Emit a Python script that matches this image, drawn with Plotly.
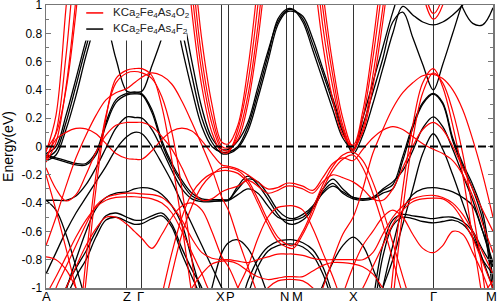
import plotly.graph_objects as go

# k-path sample positions (arbitrary path units)
K = [0, 10, 20, 30, 40, 50, 60, 70, 81,
     88.5, 96,
     106, 116, 126, 136, 146, 156, 166, 176,
     182.6,
     192, 202, 212, 222, 232, 240.6,
     247.3,
     257, 267, 277, 287, 297, 307.3,
     317, 327, 337, 347, 357, 367, 377, 387.6,
     397, 407, 417, 427, 437, 447.3]

# high-symmetry points: position, label, anchor, pixel nudge
TICK_K = [0, 81, 96, 176, 182.6, 240.6, 247.3, 307.3, 387.6, 447.3]
TICK_LABELS = ["A", "Z", "Γ", "X", "P", "N", "M", "X", "Γ", "M"]
TICK_ANCHOR = ["center", "center", "center", "right", "left", "right", "left", "center", "center", "right"]
TICK_SHIFT = [0, 0, -1, 4, -3, 4, -2.5, 0, 0, 5]

Y_TICKS = [1, 0.8, 0.6, 0.4, 0.2, 0, -0.2, -0.4, -0.6, -0.8, -1]
Y_TICK_TEXT = ["1", "0.8", "0.6", "0.4", "0.2", "0", "-0.2", "-0.4", "-0.6", "-0.8", "-1"]

# ---------------- KCa2Fe4As4F2 (black) bands ----------------
b_e1 = [-0.05, 0.0, 0.22, 0.48, 0.75, 0.98, 0.88, 0.62, 0.39,
        0.385, 0.39,
        0.57, 0.77, 1.02, 0.7, 0.4, 0.14, 0.0, -0.04,
        -0.04,
        0.0, 0.14, 0.38, 0.64, 0.9, 0.97,
        0.97,
        0.9, 0.72, 0.52, 0.31, 0.1, -0.03,
        0.15, 0.38, 0.62, 0.88, 0.95, 0.77, 0.58, 0.40,
        0.58, 0.8, 1.02, 1.2, 1.3, 1.3]
b_e2 = [-0.08, -0.03, 0.17, 0.43, 0.7, 0.92, 1.0, 0.95, 0.9,
        0.88, 0.87,
        0.9, 1.0, 1.05, 0.82, 0.5, 0.2, 0.03, -0.05,
        -0.05,
        -0.01, 0.11, 0.34, 0.6, 0.86, 0.95,
        0.955,
        0.92, 0.76, 0.55, 0.34, 0.12, -0.05,
        0.08, 0.3, 0.55, 0.8, 0.99, 0.93, 0.88, 0.86,
        0.88, 0.93, 1.0, 1.1, 1.2, 1.25]
b_e3 = [-0.1, -0.06, 0.12, 0.36, 0.64, 0.88, 1.05, 1.15, 1.2,
        1.2, 1.2,
        1.2, 1.2, 1.15, 0.95, 0.6, 0.27, 0.06, -0.02,
        -0.02,
        0.04, 0.17, 0.42, 0.67, 0.88, 0.96,
        0.965,
        0.88, 0.68, 0.47, 0.26, 0.06, -0.02,
        0.2, 0.45, 0.7, 0.95, 1.15, 1.25, 1.3, 1.3,
        1.3, 1.2, 0.98, 0.87, 0.86, 0.98]
b_h1 = [-0.07, -0.09, -0.11, -0.13, -0.13, -0.06, 0.15, 0.31, 0.365,
        0.372, 0.365,
        0.24, 0.02, -0.14, -0.26, -0.35, -0.38, -0.385, -0.385,
        -0.38,
        -0.28, -0.21, -0.27, -0.37, -0.48, -0.54,
        -0.55,
        -0.52, -0.44, -0.32, -0.26, -0.33, -0.37,
        -0.38, -0.37, -0.33, -0.3, -0.1, 0.13, 0.3, 0.37,
        0.3, 0.04, -0.14, -0.3, -0.52, -1.05]
b_h1b = [-0.06, -0.08, -0.1, -0.12, -0.12, -0.04, 0.17, 0.33, 0.375,
         0.378, 0.372,
         0.26, 0.04, -0.12, -0.24, -0.33, -0.37, -0.375, -0.375,
         -0.375,
         -0.3, -0.23, -0.25, -0.34, -0.45, -0.5,
         -0.51,
         -0.48, -0.42, -0.3, -0.23, -0.3, -0.36,
         -0.37, -0.36, -0.31, -0.27, -0.07, 0.15, 0.31, 0.375,
         0.31, 0.06, -0.12, -0.27, -0.47, -0.95]
b_h2 = [-0.38, -0.38, -0.38, -0.35, -0.27, -0.15, -0.01, 0.13, 0.21,
        0.205, 0.2,
        0.12, -0.02, -0.17, -0.3, -0.37, -0.39, -0.39, -0.38,
        -0.38,
        -0.34, -0.3, -0.33, -0.42, -0.5, -0.52,
        -0.52,
        -0.5, -0.43, -0.33, -0.28, -0.32, -0.36,
        -0.37, -0.36, -0.3, -0.25, -0.17, -0.03, 0.13, 0.21,
        0.14, -0.02, -0.2, -0.38, -0.6, -0.85]
b_h3 = [-0.9, -0.75, -0.6, -0.47, -0.36, -0.25, -0.14, -0.02, 0.07,
        0.1, 0.09,
        0.0, -0.12, -0.25, -0.4, -0.55, -0.7, -0.85, -1.0,
        -1.1,
        -1.15, -0.95, -0.8, -0.71, -0.67, -0.66,
        -0.66,
        -0.68, -0.73, -0.85, -1.05, -1.25, -1.4,
        -1.35, -1.2, -1.0, -0.8, -0.55, -0.3, -0.05, 0.09,
        -0.02, -0.2, -0.4, -0.6, -0.8, -1.0]
b_c = [-1.5, -1.5, -1.5, -1.5, -1.5, -1.5, -1.5, -1.5, -1.5,
       -1.5, -1.5,
       -1.5, -1.5, -1.5, -1.5, -1.5, -1.5, -1.45, -1.4,
       -1.3,
       -1.25, -1.05, -0.85, -0.74, -0.7, -0.69,
       -0.69,
       -0.71, -0.77, -0.9, -1.1, -1.3, -1.45,
       -1.5, -1.5, -1.5, -1.5, -1.5, -1.5, -1.5, -1.5,
       -1.5, -1.5, -1.5, -1.5, -1.5, -1.5]
b_d = [-0.38, -0.45, -0.62, -0.85, -1.1, -1.4, -1.6, -1.6, -1.6,
       -1.6, -1.6,
       -1.6, -1.6, -1.6, -1.6, -1.5, -1.3, -1.0, -0.75,
       -0.68,
       -0.66, -0.72, -0.86, -1.05, -1.25, -1.4,
       -1.4,
       -1.3, -1.15, -0.98, -0.82, -0.7, -0.64,
       -0.7, -0.86, -1.05, -1.3, -1.5, -1.6, -1.6, -1.6,
       -1.6, -1.6, -1.6, -1.5, -1.3, -1.1]
b_l2 = [-1.5, -1.25, -1.0, -0.86, -0.74, -0.6, -0.49, -0.47, -0.5,
        -0.52, -0.52,
        -0.49, -0.47, -0.55, -0.72, -0.87, -1.0, -1.2, -1.4,
        -1.5,
        -1.5, -1.5, -1.5, -1.5, -1.5, -1.5,
        -1.5,
        -1.5, -1.5, -1.5, -1.5, -1.5, -1.5,
        -1.5, -1.1, -0.7, -0.52, -0.48, -0.49, -0.5, -0.51,
        -0.5, -0.5, -0.53, -0.6, -0.73, -0.85]
b_l3 = [-1.6, -1.35, -1.08, -0.92, -0.8, -0.64, -0.52, -0.5, -0.53,
        -0.55, -0.545,
        -0.51, -0.49, -0.57, -0.76, -0.92, -1.08, -1.25, -1.45,
        -1.5,
        -1.5, -1.5, -1.5, -1.5, -1.5, -1.5,
        -1.5,
        -1.5, -1.5, -1.5, -1.5, -1.5, -1.5,
        -1.5, -1.2, -0.78, -0.56, -0.5, -0.51, -0.53, -0.54,
        -0.53, -0.52, -0.55, -0.64, -0.8, -0.9]
b_l4 = [-1.6, -1.3, -1.02, -0.8, -0.6, -0.44, -0.36, -0.33, -0.32,
        -0.3, -0.29,
        -0.3, -0.34, -0.42, -0.55, -0.8, -1.05, -1.3, -1.5,
        -1.5,
        -1.5, -1.5, -1.5, -1.5, -1.5, -1.5,
        -1.5,
        -1.5, -1.5, -1.5, -1.5, -1.5, -1.5,
        -1.5, -1.4, -1.0, -0.7, -0.45, -0.34, -0.3, -0.29,
        -0.3, -0.32, -0.36, -0.42, -0.6, -0.82]

# ---------------- KCa2Fe4As4O2 (red) bands ----------------
r_e1 = [-0.04, 0.22, 0.98, 1.7, 2.0, 2.0, 2.0, 2.0, 2.0,
        2.0, 2.0,
        2.0, 2.0, 2.0, 1.7, 0.95, 0.42, 0.1, -0.04,
        -0.04,
        0.12, 0.45, 1.0, 1.7, 2.0, 2.0,
        2.0,
        2.0, 1.5, 0.85, 0.42, 0.12, -0.03,
        0.2, 0.62, 1.15, 1.7, 2.0, 2.0, 2.0, 2.0,
        2.0, 2.0, 2.0, 2.0, 2.0, 2.0]
r_e2 = [-0.08, 0.1, 0.64, 1.4, 2.0, 2.0, 2.0, 2.0, 2.0,
        2.0, 2.0,
        2.0, 2.0, 2.0, 1.9, 1.1, 0.52, 0.16, -0.02,
        -0.03,
        0.08, 0.36, 0.85, 1.5, 2.0, 2.0,
        2.0,
        2.0, 1.65, 0.98, 0.5, 0.15, -0.02,
        0.12, 0.5, 0.98, 1.55, 2.0, 2.0, 2.0, 2.0,
        2.0, 2.0, 2.0, 2.0, 2.0, 2.0]
r_e3 = [-0.11, 0.03, 0.42, 1.05, 1.9, 2.0, 2.0, 2.0, 2.0,
        2.0, 2.0,
        2.0, 2.0, 2.0, 2.0, 1.25, 0.62, 0.22, 0.0,
        -0.01,
        0.05, 0.3, 0.75, 1.35, 1.9, 2.0,
        2.0,
        2.0, 1.8, 1.1, 0.58, 0.2, 0.0,
        0.1, 0.42, 0.88, 1.4, 1.95, 2.0, 2.0, 2.0,
        2.0, 2.0, 2.0, 2.0, 2.0, 2.0]
r_e4 = [-0.02, 0.09, 0.4, 0.95, 1.7, 2.0, 2.0, 2.0, 2.0,
        2.0, 2.0,
        2.0, 2.0, 2.0, 2.0, 1.4, 0.75, 0.3, 0.03,
        0.02,
        0.15, 0.55, 1.15, 1.8, 2.0, 2.0,
        2.0,
        2.0, 1.3, 0.72, 0.33, 0.08, 0.01,
        0.25, 0.72, 1.3, 1.9, 2.0, 2.0, 2.0, 2.0,
        2.0, 2.0, 2.0, 2.0, 2.0, 2.0]
r_u1 = [2.0, 2.0, 2.0, 2.0, 2.0, 2.0, 2.0, 2.0, 2.0,
        2.0, 2.0,
        2.0, 2.0, 2.0, 2.0, 2.0, 2.0, 2.0, 2.0,
        2.0,
        2.0, 2.0, 2.0, 2.0, 2.0, 2.0,
        2.0,
        2.0, 2.0, 2.0, 2.0, 2.0, 2.0,
        2.0, 2.0, 2.0, 2.0, 2.0, 1.6, 1.08, 0.9,
        1.0, 1.5, 2.0, 2.0, 2.0, 2.0]
r_u2 = [2.0, 2.0, 2.0, 2.0, 2.0, 2.0, 2.0, 2.0, 2.0,
        2.0, 2.0,
        2.0, 2.0, 2.0, 2.0, 2.0, 2.0, 2.0, 2.0,
        2.0,
        2.0, 2.0, 2.0, 2.0, 2.0, 2.0,
        2.0,
        2.0, 2.0, 2.0, 2.0, 2.0, 2.0,
        2.0, 2.0, 2.0, 2.0, 2.0, 1.7, 1.15, 0.94,
        1.06, 1.6, 2.0, 2.0, 2.0, 2.0]
r_h1 = [-2.0, -2.0, -2.0, -1.6, -0.95, -0.3, 0.2, 0.48, 0.54,
        0.55, 0.55,
        0.5, 0.28, -0.1, -0.55, -1.05, -1.6, -2.0, -2.0,
        -2.0,
        -2.0, -2.0, -2.0, -2.0, -2.0, -2.0,
        -2.0,
        -2.0, -2.0, -2.0, -2.0, -2.0, -2.0,
        -2.0, -2.0, -1.6, -0.9, -0.3, 0.15, 0.45, 0.55,
        0.42, 0.15, -0.2, -0.65, -1.1, -1.8]
r_h2 = [-2.0, -2.0, -2.0, -1.5, -0.8, -0.2, 0.22, 0.45, 0.52,
        0.53, 0.52,
        0.48, 0.35, 0.1, -0.3, -0.8, -1.4, -2.0, -2.0,
        -2.0,
        -2.0, -2.0, -2.0, -2.0, -2.0, -2.0,
        -2.0,
        -2.0, -2.0, -2.0, -2.0, -2.0, -2.0,
        -2.0, -2.0, -1.8, -1.1, -0.45, 0.05, 0.38, 0.52,
        0.45, 0.25, -0.05, -0.45, -0.9, -1.5]
r_h3 = [-0.7, -0.5, -0.28, -0.08, 0.08, 0.22, 0.33, 0.38, 0.41,
        0.45, 0.49,
        0.52, 0.5, 0.44, 0.32, 0.17, 0.01, -0.16, -0.36,
        -0.45,
        -0.65, -0.85, -1.05, -1.25, -1.45, -1.5,
        -1.5,
        -1.4, -1.2, -1.0, -0.8, -0.62, -0.5,
        -0.3, -0.05, 0.12, 0.27, 0.38, 0.45, 0.5, 0.51,
        0.48, 0.4, 0.26, 0.05, -0.2, -0.5]
r_h4 = [-0.15, -0.3, -0.385, -0.34, -0.2, -0.04, 0.08, 0.15, 0.17,
        0.17, 0.17,
        0.14, 0.07, -0.02, -0.15, -0.3, -0.38, -0.37, -0.32,
        -0.3,
        -0.28, -0.24, -0.28, -0.33, -0.31, -0.28,
        -0.28,
        -0.3, -0.33, -0.25, -0.2, -0.22, -0.25,
        -0.3, -0.37, -0.38, -0.3, -0.15, 0.0, 0.12, 0.17,
        0.12, 0.0, -0.15, -0.3, -0.45, -0.6]
r_b = [-0.1, 0.05, 0.1, 0.128, 0.125, 0.09, 0.02, -0.05, -0.085,
       -0.09, -0.09,
       -0.03, 0.05, 0.11, 0.13, 0.11, 0.04, -0.05, -0.13,
       -0.14,
       -0.16, -0.2, -0.25, -0.3, -0.29, -0.26,
       -0.26,
       -0.28, -0.31, -0.22, -0.12, -0.08, -0.1,
       -0.02, 0.06, 0.115, 0.14, 0.12, 0.07, 0.02, -0.02,
       -0.05, -0.1, -0.2, -0.35, -0.55, -0.75]
r_p1 = [-1.2, -1.0, -0.85, -0.7, -0.55, -0.42, -0.36, -0.34, -0.33,
        -0.33, -0.335,
        -0.34, -0.36, -0.42, -0.52, -0.65, -0.75, -0.79, -0.8,
        -0.8,
        -0.81, -0.82, -0.8, -0.78, -0.76, -0.76,
        -0.76,
        -0.77, -0.79, -0.8, -0.8, -0.8, -0.8,
        -0.8, -0.75, -0.62, -0.5, -0.42, -0.37, -0.35, -0.345,
        -0.36, -0.4, -0.48, -0.6, -0.75, -0.9]
r_p2 = [-1.05, -0.92, -0.78, -0.64, -0.52, -0.43, -0.38, -0.36, -0.355,
        -0.355, -0.36,
        -0.37, -0.4, -0.47, -0.6, -0.75, -0.9, -1.05, -1.1,
        -1.15,
        -1.2, -1.2, -1.1, -1.0, -0.95, -0.94,
        -0.94,
        -0.95, -1.0, -1.1, -1.2, -1.2, -1.1,
        -1.0, -0.85, -0.7, -0.55, -0.45, -0.39, -0.37, -0.365,
        -0.37, -0.42, -0.52, -0.65, -0.82, -1.0]
r_f = [-0.78, -0.8, -0.87, -1.0, -1.15, -1.3, -1.4, -1.5, -1.5,
       -1.5, -1.5,
       -1.5, -1.4, -1.3, -1.15, -1.0, -0.9, -0.83, -0.81,
       -0.81,
       -0.83, -0.88, -0.92, -0.94, -0.93, -0.92,
       -0.92,
       -0.92, -0.88, -0.84, -0.82, -0.82, -0.83,
       -0.85, -0.9, -1.0, -1.1, -1.25, -1.4, -1.5, -1.5,
       -1.5, -1.45, -1.35, -1.2, -1.05, -0.95]
r_s = [-0.2, -0.45, -0.72, -1.0, -1.3, -1.6, -1.8, -2.0, -2.0,
       -2.0, -2.0,
       -2.0, -2.0, -2.0, -2.0, -2.0, -2.0, -2.0, -2.0,
       -2.0,
       -2.0, -2.0, -2.0, -2.0, -2.0, -2.0,
       -2.0,
       -2.0, -2.0, -2.0, -2.0, -2.0, -2.0,
       -2.0, -2.0, -2.0, -2.0, -2.0, -2.0, -2.0, -2.0,
       -2.0, -2.0, -2.0, -2.0, -2.0, -2.0]
r_x = [-1.3, -1.15, -1.0, -0.85, -0.7, -0.58, -0.5, -0.5, -0.55,
       -0.6, -0.65,
       -0.72, -0.62, -0.5, -0.42, -0.4, -0.45, -0.6, -0.78,
       -0.85,
       -1.0, -1.2, -1.4, -1.6, -1.6, -1.6,
       -1.6,
       -1.6, -1.6, -1.5, -1.3, -1.05, -0.85,
       -0.7, -0.6, -0.5, -0.45, -0.5, -0.62, -0.72, -0.75,
       -0.7, -0.6, -0.62, -0.75, -0.9, -1.1]
r_v1 = [-1.6, -1.6, -1.6, -1.6, -1.6, -1.6, -1.6, -1.6, -1.6,
        -1.6, -1.6,
        -1.35, -1.05, -0.75, -0.5, -0.33, -0.24, -0.19, -0.17,
        -0.17,
        -0.19, -0.26, -0.4, -0.55, -0.67, -0.71,
        -0.72,
        -0.62, -0.47, -0.3, -0.17, -0.09, -0.06,
        -0.15, -0.33, -0.55, -0.8, -1.05, -1.3, -1.5, -1.6,
        -1.6, -1.6, -1.6, -1.6, -1.6, -1.6]
r_v2 = [-1.6, -1.6, -1.6, -1.6, -1.6, -1.6, -1.6, -1.6, -1.6,
        -1.6, -1.6,
        -1.5, -1.2, -0.9, -0.62, -0.42, -0.28, -0.2, -0.15,
        -0.15,
        -0.17, -0.24, -0.37, -0.52, -0.64, -0.69,
        -0.7,
        -0.6, -0.44, -0.27, -0.14, -0.06, -0.04,
        -0.1, -0.25, -0.45, -0.68, -0.92, -1.15, -1.4, -1.6,
        -1.6, -1.6, -1.6, -1.6, -1.6, -1.6]
r_c = [-1.6, -1.6, -1.6, -1.6, -1.6, -1.6, -1.6, -1.6, -1.6,
       -1.6, -1.6,
       -1.6, -1.6, -1.6, -1.6, -1.5, -1.4, -1.3, -1.2,
       -1.15,
       -1.0, -0.85, -0.65, -0.5, -0.43, -0.42,
       -0.42,
       -0.45, -0.58, -0.75, -0.92, -1.1, -1.2,
       -1.3, -1.4, -1.5, -1.6, -1.6, -1.6, -1.6, -1.6,
       -1.6, -1.6, -1.6, -1.6, -1.6, -1.6]

BLACK_BANDS = [b_e1, b_e2, b_e3, b_h1, b_h1b, b_h2, b_h3, b_c, b_d, b_l2, b_l3, b_l4]
RED_BANDS = [r_e1, r_e2, r_e3, r_e4, r_u1, r_u2, r_h1, r_h2, r_h3, r_h4, r_b,
             r_p1, r_p2, r_f, r_s, r_x, r_v1, r_v2, r_c]

for i, b in enumerate(BLACK_BANDS + RED_BANDS):
    if len(b) != len(K):
        raise ValueError(f"band {i} has {len(b)} values, expected {len(K)}")

NAME_O = "KCa<sub>2</sub>Fe<sub>4</sub>As<sub>4</sub>O<sub>2</sub>"
NAME_F = "KCa<sub>2</sub>Fe<sub>4</sub>As<sub>4</sub>F<sub>2</sub>"
RED = "#ff0000"

fig = go.Figure()
for band in BLACK_BANDS:
    fig.add_trace(go.Scatter(
        x=K, y=band, mode="lines", name=NAME_F, showlegend=False,
        line=dict(color="black", width=1.3, shape="spline", smoothing=1.0),
        hoverinfo="skip"))
for band in RED_BANDS:
    fig.add_trace(go.Scatter(
        x=K, y=band, mode="lines", name=NAME_O, showlegend=False,
        line=dict(color=RED, width=1.2, shape="spline", smoothing=1.0),
        hoverinfo="skip"))

# dashed Fermi level
fig.add_shape(type="line", xref="x", yref="y", x0=K[0], x1=K[-1], y0=0, y1=0,
              line=dict(color="black", width=2, dash="8px,4px"), layer="above")

# legend box (white backdrop, line keys and labels)
LEG_X0, LEG_X1 = 0.085, 0.315
LEG_KEY = (0.090, 0.128)
LEG_ROWS = [(0.972, RED, NAME_O), (0.915, "black", NAME_F)]
fig.add_shape(type="rect", xref="paper", yref="paper",
              x0=LEG_X0, x1=LEG_X1, y0=0.875, y1=1.0,
              fillcolor="white", line=dict(width=0), layer="above")
for yy, col, name in LEG_ROWS:
    fig.add_shape(type="line", xref="paper", yref="paper",
                  x0=LEG_KEY[0], x1=LEG_KEY[1], y0=yy, y1=yy,
                  line=dict(color=col, width=1.5), layer="above")
    fig.add_annotation(x=0.146, y=yy, xref="paper", yref="paper",
                       xanchor="left", yanchor="middle", showarrow=False,
                       text=name, font=dict(size=11.5, color="#222222"))

# high-symmetry point labels under the axis
for kk, lab, anc, sh in zip(TICK_K, TICK_LABELS, TICK_ANCHOR, TICK_SHIFT):
    fig.add_annotation(x=kk, y=0, xref="x", yref="paper",
                       xanchor=anc, yanchor="top", xshift=sh, yshift=0,
                       showarrow=False, borderpad=0, text=lab,
                       font=dict(size=13, color="black"))

fig.update_layout(
    width=498, height=303,
    margin=dict(l=46, r=5, t=5, b=15, autoexpand=False),
    paper_bgcolor="white", plot_bgcolor="white",
    font=dict(family="Liberation Sans, Arial, sans-serif", color="black", size=12),
    showlegend=False,
    xaxis=dict(range=[K[0], K[-1]], tickmode="array", tickvals=TICK_K,
               showticklabels=False, ticks="", showgrid=True, automargin=False,
               gridcolor="#333333", gridwidth=1, zeroline=False,
               showline=True, mirror=True, linecolor="#777777", linewidth=1.5),
    yaxis=dict(range=[-1, 1], tickmode="array", tickvals=Y_TICKS,
               ticktext=Y_TICK_TEXT, ticks="inside", ticklen=5, automargin=False,
               ticklabeloverflow="allow",
               tickcolor="#777777", showgrid=False, zeroline=False,
               showline=True, mirror="ticks", linecolor="#777777", linewidth=1.5,
               minor=dict(ticks="inside", ticklen=3, dtick=0.1, tickcolor="#777777"),
               title=dict(text="Energy(eV)", font=dict(size=14), standoff=4),
               tickfont=dict(size=12)),
)

# remove the browser's default page margin so the figure sits at the window origin
fig.write_html("out.html",
               config={"displayModeBar": False, "staticPlot": True},
               post_script="document.body.style.margin='0';document.body.style.overflow='hidden';")
